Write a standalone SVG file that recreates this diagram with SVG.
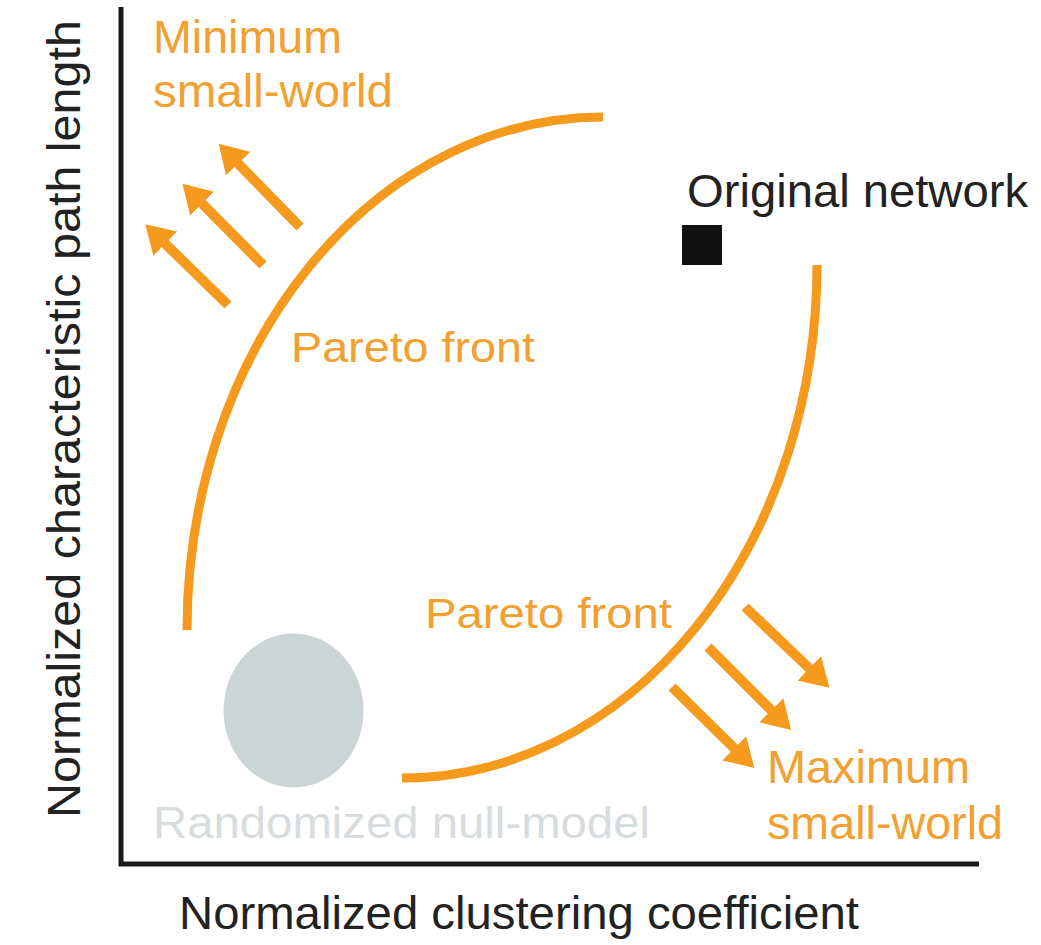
<svg xmlns="http://www.w3.org/2000/svg" width="1041" height="945" viewBox="0 0 1041 945">
<style>
text{font-family:"Liberation Sans",Arial,Helvetica,sans-serif}
.or{fill:#F2A030}
.bk{fill:#222}
.gy{fill:#D7DCDE}
.front{fill:none;stroke:#F59A1C;stroke-width:9}
.arr{stroke:#F59A1C;stroke-width:10;fill:none}
.axis{stroke:#1a1a1a;stroke-width:5;fill:none}
</style>
<defs>
<marker id="head" markerUnits="userSpaceOnUse" viewBox="0 0 28 34" refX="1" refY="17" markerWidth="28" markerHeight="34" orient="auto">
<path d="M0,0 L28,17 L0,34 z" fill="#F59A1C"/>
</marker>
</defs>
<rect width="1041" height="945" fill="#fff"/>
<g id="axes">
<path class="axis" d="M121,7 V866 M118.5,864 H979"/>
<text id="ylabel" class="bk" font-size="46" transform="translate(80,419) rotate(-90)" text-anchor="middle" textLength="798" lengthAdjust="spacingAndGlyphs">Normalized characteristic path length</text>
<text id="xlabel" class="bk" font-size="46" x="179" y="929" textLength="680" lengthAdjust="spacingAndGlyphs">Normalized clustering coefficient</text>
</g>
<g id="null-model">
<ellipse cx="293.5" cy="710.5" rx="70" ry="77" fill="#CDD4D5"/>
<text class="gy" font-size="44" x="153" y="838" textLength="497" lengthAdjust="spacingAndGlyphs">Randomized null-model</text>
</g>
<g id="original-network">
<rect x="682" y="225" width="40" height="40" fill="#111"/>
<text class="bk" font-size="46" x="687" y="207" textLength="341" lengthAdjust="spacingAndGlyphs">Original network</text>
</g>
<g id="front-min">
<path class="front" d="M187,630 A416,513 0 0 1 603,117"/>
<text class="or" font-size="43" x="291" y="362" textLength="244" lengthAdjust="spacingAndGlyphs">Pareto front</text>
</g>
<g id="front-max">
<path class="front" d="M817,265 A415,513 0 0 1 402,778"/>
<text class="or" font-size="43" x="425" y="628" textLength="247" lengthAdjust="spacingAndGlyphs">Pareto front</text>
</g>
<g id="label-min">
<text class="or" font-size="46" x="153" y="53" textLength="189" lengthAdjust="spacingAndGlyphs">Minimum</text>
<text class="or" font-size="46" x="153" y="107" textLength="240" lengthAdjust="spacingAndGlyphs">small-world</text>
</g>
<g id="label-max">
<text class="or" font-size="46" x="767" y="783" textLength="203" lengthAdjust="spacingAndGlyphs">Maximum</text>
<text class="or" font-size="46" x="767" y="839" textLength="236" lengthAdjust="spacingAndGlyphs">small-world</text>
</g>
<g id="connectors">
<line class="arr" x1="300" y1="227" x2="237.5" y2="163" marker-end="url(#head)"/>
<line class="arr" x1="263" y1="265" x2="201.5" y2="203" marker-end="url(#head)"/>
<line class="arr" x1="228" y1="305" x2="164.5" y2="243" marker-end="url(#head)"/>
<line class="arr" x1="745" y1="607" x2="810" y2="669" marker-end="url(#head)"/>
<line class="arr" x1="708" y1="647" x2="772" y2="711" marker-end="url(#head)"/>
<line class="arr" x1="672" y1="687" x2="735" y2="749" marker-end="url(#head)"/>
</g>
</svg>
